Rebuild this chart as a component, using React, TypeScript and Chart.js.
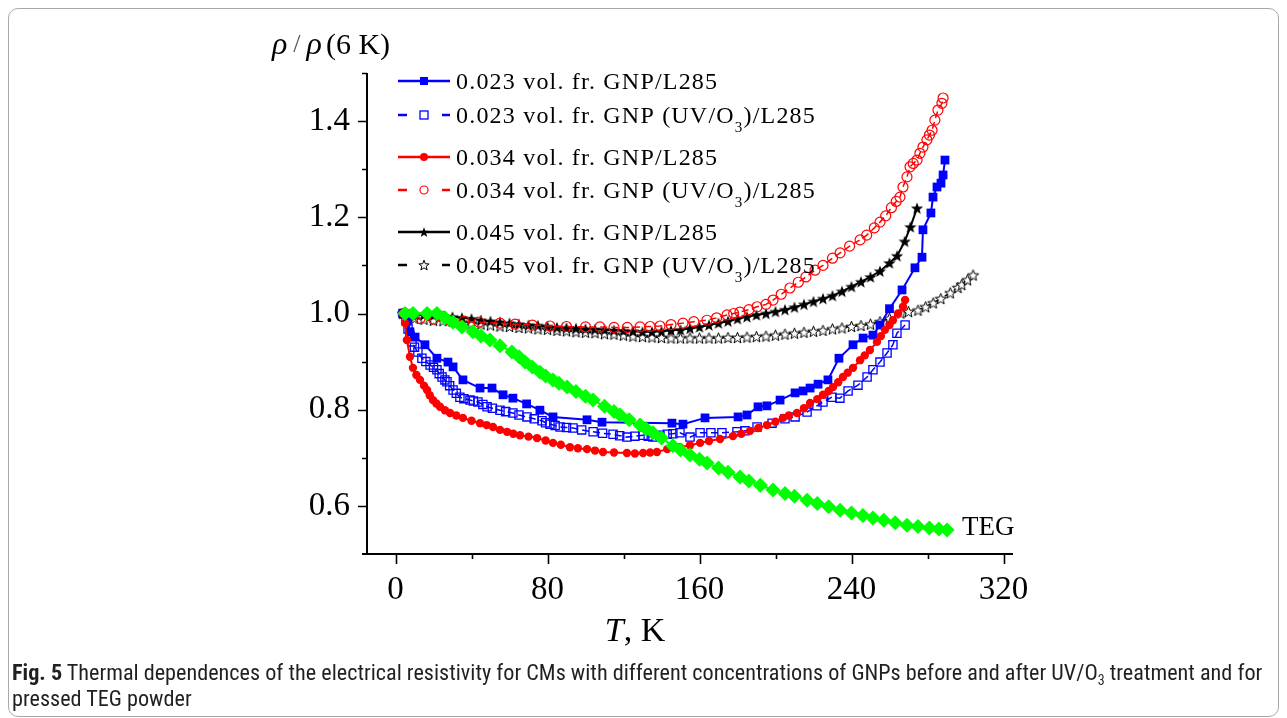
import { useEffect, useRef } from 'react';
import { Chart, registerables } from 'chart.js';

Chart.register(...registerables);

// ---------- data (T in K, rho / rho(6 K)) ----------
const gnp023: [number, number][] = [
  [4, 1.0], [6.6, 0.986], [7.6, 0.962], [10.3, 0.951], [15.5, 0.935], [21.8, 0.907], [27.6, 0.899],
  [30.3, 0.889], [35.5, 0.862], [44.5, 0.845], [50.8, 0.845], [56.6, 0.831], [61.8, 0.824], [69, 0.812],
  [76, 0.799], [82.9, 0.785], [100.8, 0.779], [108.7, 0.774], [145.5, 0.772], [151.3, 0.77], [162.9, 0.783],
  [180.3, 0.785], [185, 0.789], [190.8, 0.806], [195.5, 0.808], [202.4, 0.82], [210.3, 0.835], [214.5, 0.839],
  [218.2, 0.845], [222.4, 0.853], [227.6, 0.862], [233.4, 0.907], [240.8, 0.935], [246.1, 0.949],
  [251.3, 0.955], [255, 0.976], [260, 1.01], [266.6, 1.049], [273.4, 1.095], [277.1, 1.117], [277.6, 1.174],
  [281.8, 1.209], [282.9, 1.242], [285, 1.263], [287.1, 1.271], [288.2, 1.288], [289.2, 1.319],
];

const gnp023uv: [number, number][] = [
  [4, 1.0], [5.5, 0.985], [6.6, 0.968], [7.6, 0.955], [8.7, 0.941], [10, 0.93], [11.8, 0.92], [13.9, 0.907],
  [16, 0.9], [18.2, 0.893], [20, 0.888], [21.8, 0.883], [23, 0.875], [24.5, 0.868], [26, 0.862], [27.1, 0.858],
  [28.5, 0.85], [30.3, 0.841], [32, 0.834], [33.9, 0.826], [36, 0.823], [39.2, 0.82], [41, 0.818], [43.4, 0.816],
  [46, 0.811], [48.2, 0.806], [51, 0.803], [55, 0.799], [58, 0.796], [61.8, 0.793], [65, 0.789], [69.2, 0.785],
  [73, 0.781], [77.1, 0.777], [79, 0.773], [81.3, 0.77], [84, 0.767], [86.6, 0.764], [90, 0.763], [93.4, 0.762],
  [98, 0.758], [104, 0.754], [109, 0.751], [114.5, 0.749], [118, 0.746], [121.8, 0.743], [126, 0.745],
  [130.3, 0.747], [133, 0.745], [135.5, 0.743], [139.2, 0.747], [143, 0.749], [146, 0.75], [149.7, 0.752],
  [155, 0.743], [160.3, 0.752], [166, 0.752], [171.8, 0.752], [179.7, 0.754], [183.9, 0.756], [190.3, 0.764],
  [198.2, 0.772], [205, 0.781], [210.3, 0.785], [216.6, 0.795], [221.8, 0.808], [225, 0.816], [229.7, 0.826],
  [233.9, 0.824], [238.2, 0.839], [243.4, 0.851], [248.2, 0.868], [251.3, 0.883], [255, 0.899], [258.7, 0.918],
  [261.8, 0.935], [263.9, 0.959], [268.2, 0.976],
];

const gnp034: [number, number][] = [
  [4, 1.0], [5, 0.98], [6, 0.945], [7.6, 0.91], [9.2, 0.887], [11, 0.872], [12.9, 0.862], [15, 0.85],
  [16.6, 0.841], [18, 0.83], [19.7, 0.82], [21.5, 0.813], [23.4, 0.806], [26, 0.799], [28.7, 0.793],
  [32, 0.788], [35.5, 0.783], [40, 0.777], [44.5, 0.772], [48, 0.768], [51.3, 0.764], [55, 0.758],
  [58.7, 0.754], [62, 0.75], [65.5, 0.747], [70, 0.744], [74.5, 0.741], [79, 0.736], [82.9, 0.731],
  [87, 0.727], [91.8, 0.722], [96, 0.72], [100.8, 0.718], [105, 0.715], [109.2, 0.712], [115, 0.711],
  [121.8, 0.71], [126, 0.709], [130.3, 0.71], [134, 0.711], [137.6, 0.712], [143, 0.718], [149.7, 0.722],
  [155, 0.726], [160.3, 0.731], [165, 0.735], [170.8, 0.739], [177.6, 0.745], [182, 0.75], [186.6, 0.756],
  [191, 0.762], [195.5, 0.768], [200, 0.775], [203.9, 0.783], [207, 0.788], [211.3, 0.793], [215, 0.803],
  [218.2, 0.814], [222, 0.822], [225, 0.831], [228, 0.839], [230.3, 0.847], [233, 0.857], [235.5, 0.868],
  [238, 0.877], [240.8, 0.887], [244.5, 0.903], [247, 0.913], [249.7, 0.924], [253.4, 0.941], [255.5, 0.953],
  [257.6, 0.966], [260, 0.976], [261.8, 0.986], [264.5, 1.0], [267.1, 1.014], [268.2, 1.028],
];

const gnp034uv: [number, number][] = [
  [4, 1.0], [8, 0.995], [13, 0.99], [20, 0.988], [28.7, 0.986], [36, 0.984], [44, 0.982], [55, 0.98],
  [63, 0.978], [72, 0.976], [81.3, 0.974], [90, 0.973], [100, 0.972], [107.6, 0.972], [115, 0.971],
  [122, 0.971], [128.7, 0.972], [134, 0.973], [139.2, 0.974], [145, 0.977], [151.3, 0.98], [157, 0.983],
  [163.9, 0.986], [169, 0.991], [174.5, 0.997], [178, 1.0], [181.3, 1.003], [186, 1.008], [190.3, 1.014],
  [195, 1.019], [198.7, 1.028], [203, 1.04], [207.6, 1.053], [212, 1.065], [216, 1.076], [220.8, 1.09],
  [225, 1.1], [230, 1.115], [234, 1.126], [239, 1.14], [244.5, 1.153], [248, 1.163], [252, 1.178],
  [255, 1.19], [258, 1.203], [261, 1.22], [263.5, 1.233], [265.5, 1.242], [267.1, 1.263], [269.2, 1.284],
  [270.8, 1.305], [272.5, 1.312], [274.5, 1.319], [276, 1.333], [277.6, 1.346], [279.7, 1.361], [281, 1.371],
  [282.4, 1.381], [283.9, 1.402], [285.5, 1.423], [287.6, 1.437], [288.2, 1.448],
];

const gnp045: [number, number][] = [
  [4, 1.0], [7, 0.999], [10, 0.998], [15, 0.997], [20, 0.996], [25, 0.995], [30, 0.993], [35, 0.991],
  [40, 0.989], [45, 0.986], [50, 0.984], [55, 0.982], [60, 0.98], [65, 0.978], [70, 0.976], [75, 0.975],
  [80, 0.973], [85, 0.971], [90, 0.97], [95, 0.969], [100, 0.968], [105, 0.967], [110, 0.966], [115, 0.965],
  [120, 0.964], [125, 0.963], [130, 0.962], [135, 0.962], [140, 0.963], [145, 0.965], [150, 0.966],
  [155, 0.969], [160, 0.972], [165, 0.976], [170, 0.98], [175, 0.984], [180, 0.989], [185, 0.993],
  [190, 0.997], [195, 1.0], [200, 1.004], [205, 1.008], [210, 1.013], [215, 1.019], [220, 1.025],
  [225, 1.031], [230, 1.037], [235, 1.046], [240, 1.056], [245, 1.066], [250, 1.076], [255, 1.088],
  [260, 1.105], [264, 1.12], [268, 1.15], [271, 1.18], [274.5, 1.219],
];

const gnp045uv: [number, number][] = [
  [4, 1.0], [7, 0.994], [10, 0.99], [15, 0.988], [20, 0.986], [25, 0.985], [30, 0.984], [35, 0.982],
  [40, 0.98], [45, 0.978], [50, 0.976], [55, 0.974], [60, 0.973], [65, 0.971], [70, 0.97], [75, 0.968],
  [80, 0.967], [85, 0.965], [90, 0.964], [95, 0.962], [100, 0.961], [105, 0.96], [110, 0.958], [115, 0.957],
  [120, 0.955], [125, 0.953], [130, 0.952], [135, 0.951], [140, 0.95], [145, 0.949], [150, 0.949],
  [155, 0.949], [160, 0.949], [165, 0.949], [170, 0.949], [175, 0.95], [180, 0.95], [185, 0.951],
  [190, 0.952], [195, 0.953], [200, 0.955], [205, 0.957], [210, 0.959], [215, 0.961], [220, 0.963],
  [225, 0.965], [230, 0.968], [235, 0.97], [240, 0.973], [245, 0.975], [250, 0.978], [255, 0.983],
  [260, 0.99], [266, 1.001], [270, 1.004], [275, 1.007], [279, 1.014], [283, 1.022], [287, 1.031],
  [292, 1.043], [296, 1.054], [298, 1.06], [301, 1.07], [304, 1.08],
];

const teg: [number, number][] = [
  [5, 1.0], [9.2, 1.0], [16.6, 1.0], [21.8, 1.0], [26, 0.991], [30.3, 0.982], [35, 0.972], [40.8, 0.962],
  [45, 0.953], [49.7, 0.945], [55, 0.933], [61.3, 0.92], [65, 0.91], [68.2, 0.899], [72, 0.889],
  [76.1, 0.878], [79, 0.87], [82.9, 0.862], [86, 0.855], [90.3, 0.847], [95, 0.838], [100, 0.828],
  [104, 0.82], [110, 0.807], [115, 0.796], [118.2, 0.789], [123, 0.779], [128.7, 0.768], [132, 0.76],
  [135.5, 0.752], [140, 0.741], [146, 0.725], [150, 0.716], [155, 0.706], [160, 0.697], [164, 0.689],
  [170, 0.679], [175, 0.67], [181.3, 0.66], [186, 0.652], [192, 0.643], [198.7, 0.633], [205, 0.626],
  [210, 0.62], [216.6, 0.612], [222, 0.605], [228, 0.598], [234, 0.591], [240, 0.585], [246, 0.58],
  [251.3, 0.575], [257, 0.57], [263, 0.565], [269.2, 0.56], [275, 0.557], [281, 0.554], [286, 0.552],
  [290.3, 0.55],
];

const xMajorTicks = [0, 80, 160, 240, 320];
const xMinorTicks = [40, 120, 200, 280];
const yMajorTicks = [0.6, 0.8, 1.0, 1.2, 1.4];
const yMinorTicks = [0.7, 0.9, 1.1, 1.3, 1.5];

const legendLabels = [
  ['0.023 vol. fr. GNP/L285'],
  ['0.023 vol. fr. GNP (UV/O', '3', ')/L285'],
  ['0.034 vol. fr. GNP/L285'],
  ['0.034 vol. fr. GNP (UV/O', '3', ')/L285'],
  ['0.045 vol. fr. GNP/L285'],
  ['0.045 vol. fr. GNP (UV/O', '3', ')/L285'],
];

const BLUE = '#0000ff';
const RED = '#ff0000';
const BLACK = '#000000';
const GREEN = '#00ff00';
const SERIF = "'Liberation Serif', 'Times New Roman', serif";

function starPath(ctx: CanvasRenderingContext2D, cx: number, cy: number, ro: number, ri: number) {
  ctx.beginPath();
  for (let i = 0; i < 10; i++) {
    const r = i % 2 === 0 ? ro : ri;
    const a = -Math.PI / 2 + (i * Math.PI) / 5;
    const x = cx + r * Math.cos(a);
    const y = cy + r * Math.sin(a);
    if (i === 0) ctx.moveTo(x, y);
    else ctx.lineTo(x, y);
  }
  ctx.closePath();
}

function makeStar(filled: boolean, size: number): HTMLCanvasElement {
  const c = document.createElement('canvas');
  c.width = size;
  c.height = size;
  const g = c.getContext('2d')!;
  starPath(g, size / 2, size / 2 + 0.6, size / 2 - 0.6, (size / 2 - 0.6) * 0.42);
  if (filled) {
    g.fillStyle = BLACK;
    g.fill();
  } else {
    g.fillStyle = '#ffffff';
    g.fill();
    g.strokeStyle = BLACK;
    g.lineWidth = 1;
    g.stroke();
  }
  return c;
}

type MarkerKind = 'sqF' | 'sqO' | 'ciF' | 'ciO' | 'stF' | 'stO';

function drawMarker(ctx: CanvasRenderingContext2D, kind: MarkerKind, x: number, y: number, stars: Record<string, HTMLCanvasElement>) {
  ctx.save();
  if (kind === 'sqF') {
    ctx.fillStyle = BLUE;
    ctx.fillRect(x - 4, y - 4, 8, 8);
  } else if (kind === 'sqO') {
    ctx.strokeStyle = BLUE;
    ctx.lineWidth = 1.3;
    ctx.fillStyle = '#fff';
    ctx.fillRect(x - 4, y - 4, 8, 8);
    ctx.strokeRect(x - 4, y - 4, 8, 8);
  } else if (kind === 'ciF') {
    ctx.fillStyle = RED;
    ctx.beginPath();
    ctx.arc(x, y, 4, 0, Math.PI * 2);
    ctx.fill();
  } else if (kind === 'ciO') {
    ctx.strokeStyle = RED;
    ctx.fillStyle = '#fff';
    ctx.lineWidth = 1.2;
    ctx.beginPath();
    ctx.arc(x, y, 4, 0, Math.PI * 2);
    ctx.fill();
    ctx.stroke();
  } else {
    const img = kind === 'stF' ? stars.legendFilled : stars.legendOpen;
    ctx.drawImage(img, x - img.width / 2, y - img.height / 2);
  }
  ctx.restore();
}

const pts = (arr: [number, number][]) => arr.map(([x, y]) => ({ x, y }));

export default function App() {
  const ref = useRef<HTMLCanvasElement | null>(null);

  useEffect(() => {
    if (!ref.current) return;
    const stars = {
      filled: makeStar(true, 14),
      open: makeStar(false, 13),
      legendFilled: makeStar(true, 12),
      legendOpen: makeStar(false, 12),
    };

    const decor = {
      id: 'decor',
      afterDraw(chart: any) {
        const ctx: CanvasRenderingContext2D = chart.ctx;
        const a = chart.chartArea;
        const xs = chart.scales.x;
        const ys = chart.scales.y;
        ctx.save();
        // axes
        ctx.strokeStyle = '#000';
        ctx.lineWidth = 2;
        ctx.beginPath();
        ctx.moveTo(a.left - 5, a.bottom);
        ctx.lineTo(a.right, a.bottom);
        ctx.moveTo(a.left, a.top);
        ctx.lineTo(a.left, a.bottom);
        ctx.stroke();
        // ticks
        ctx.lineWidth = 1.6;
        ctx.beginPath();
        xMajorTicks.forEach((v) => {
          const p = Math.round(xs.getPixelForValue(v)) + 0.5;
          ctx.moveTo(p, a.bottom);
          ctx.lineTo(p, a.bottom + 10);
        });
        xMinorTicks.forEach((v) => {
          const p = Math.round(xs.getPixelForValue(v)) + 0.5;
          ctx.moveTo(p, a.bottom);
          ctx.lineTo(p, a.bottom + 5);
        });
        yMajorTicks.forEach((v) => {
          const p = Math.round(ys.getPixelForValue(v)) + 0.5;
          ctx.moveTo(a.left - 9, p);
          ctx.lineTo(a.left, p);
        });
        yMinorTicks.forEach((v) => {
          const p = Math.round(ys.getPixelForValue(v)) + 0.5;
          ctx.moveTo(a.left - 5, p);
          ctx.lineTo(a.left, p);
        });
        ctx.stroke();

        // legend
        const rows = [73, 107, 149, 182, 224, 257];
        const kinds: MarkerKind[] = ['sqF', 'sqO', 'ciF', 'ciO', 'stF', 'stO'];
        const colors = [BLUE, BLUE, RED, RED, BLACK, BLACK];
        rows.forEach((ry, i) => {
          ctx.strokeStyle = colors[i];
          ctx.lineWidth = 2.4;
          ctx.beginPath();
          if (i % 2 === 0) {
            ctx.moveTo(390, ry);
            ctx.lineTo(442, ry);
          } else {
            ctx.moveTo(390, ry);
            ctx.lineTo(399, ry);
            ctx.moveTo(434, ry);
            ctx.lineTo(442, ry);
          }
          ctx.stroke();
          drawMarker(ctx, kinds[i], 416, ry, stars);
          const parts = legendLabels[i];
          ctx.fillStyle = '#000';
          ctx.textBaseline = 'alphabetic';
          ctx.textAlign = 'left';
          (ctx as any).letterSpacing = '1.2px';
          let x = 448;
          ctx.font = `24px ${SERIF}`;
          ctx.fillText(parts[0], x, ry + 8);
          x += ctx.measureText(parts[0]).width;
          if (parts.length > 1) {
            ctx.font = `15px ${SERIF}`;
            ctx.fillText(parts[1], x, ry + 17);
            x += ctx.measureText(parts[1]).width;
            ctx.font = `24px ${SERIF}`;
            ctx.fillText(parts[2], x, ry + 8);
          }
          (ctx as any).letterSpacing = '0px';
        });

        // axis titles
        ctx.fillStyle = '#000';
        ctx.textBaseline = 'alphabetic';
        // y title
        let x = 264;
        const yb = 46;
        ctx.font = `italic 32px ${SERIF}`;
        ctx.fillText('ρ', x, yb);
        x += ctx.measureText('ρ').width + 6;
        ctx.font = `26px ${SERIF}`;
        ctx.fillStyle = '#555';
        ctx.fillText('/', x, yb - 2);
        x += ctx.measureText('/').width + 6;
        ctx.fillStyle = '#000';
        ctx.font = `italic 32px ${SERIF}`;
        ctx.fillText('ρ', x, yb);
        x += ctx.measureText('ρ').width + 4;
        ctx.font = `30px ${SERIF}`;
        ctx.fillText('(6 K)', x, yb);

        // x title
        ctx.font = `italic 34px ${SERIF}`;
        const wT = ctx.measureText('T').width;
        ctx.font = `34px ${SERIF}`;
        const wR = ctx.measureText(', K').width;
        let tx = 627 - (wT + wR) / 2;
        ctx.font = `italic 34px ${SERIF}`;
        ctx.fillText('T', tx, 633);
        tx += wT;
        ctx.font = `34px ${SERIF}`;
        ctx.fillText(', K', tx, 633);

        // TEG label
        ctx.font = `27px ${SERIF}`;
        ctx.fillText('TEG', 954, 527);
        ctx.restore();
      },
    };

    const chart = new Chart(ref.current, {
      type: 'scatter',
      data: {
        datasets: [
          {
            label: 'TEG',
            data: pts(teg),
            showLine: true,
            borderColor: GREEN,
            backgroundColor: GREEN,
            borderWidth: 2,
            pointStyle: 'rectRot',
            pointRadius: 7.5,
            pointBorderWidth: 0,
            order: 0,
          },
          {
            label: legendLabels[2].join(''),
            data: pts(gnp034),
            showLine: true,
            borderColor: RED,
            backgroundColor: RED,
            borderWidth: 2,
            pointStyle: 'circle',
            pointRadius: 4.2,
            pointBorderWidth: 0,
            order: 1,
          },
          {
            label: legendLabels[0].join(''),
            data: pts(gnp023),
            showLine: true,
            borderColor: BLUE,
            backgroundColor: BLUE,
            borderWidth: 2,
            pointStyle: 'rect',
            pointRadius: 6.2,
            pointBorderWidth: 0,
            order: 2,
          },
          {
            label: legendLabels[1].join(''),
            data: pts(gnp023uv),
            showLine: true,
            borderColor: BLUE,
            backgroundColor: 'rgba(255,255,255,0)',
            borderWidth: 1.5,
            borderDash: [7, 4],
            pointStyle: 'rect',
            pointRadius: 5.8,
            pointBorderWidth: 1.3,
            pointBorderColor: BLUE,
            pointBackgroundColor: 'rgba(255,255,255,0)',
            order: 3,
          },
          {
            label: legendLabels[3].join(''),
            data: pts(gnp034uv),
            showLine: true,
            borderColor: RED,
            backgroundColor: 'rgba(255,255,255,0)',
            borderWidth: 1.5,
            borderDash: [7, 4],
            pointStyle: 'circle',
            pointRadius: 5,
            pointBorderWidth: 1.2,
            pointBorderColor: RED,
            pointBackgroundColor: 'rgba(255,255,255,0)',
            order: 4,
          },
          {
            label: legendLabels[4].join(''),
            data: pts(gnp045),
            showLine: true,
            borderColor: BLACK,
            backgroundColor: BLACK,
            borderWidth: 2,
            pointStyle: stars.filled,
            order: 5,
          },
          {
            label: legendLabels[5].join(''),
            data: pts(gnp045uv),
            showLine: true,
            borderColor: BLACK,
            backgroundColor: BLACK,
            borderWidth: 1.5,
            borderDash: [7, 4],
            pointStyle: stars.open,
            order: 6,
          },
        ],
      } as any,
      options: {
        responsive: false,
        animation: false,
        devicePixelRatio: 1,
        layout: { padding: { left: 299, right: 266, top: 65, bottom: 34 } },
        plugins: { legend: { display: false }, tooltip: { enabled: false } },
        elements: { line: { tension: 0 } },
        scales: {
          x: {
            type: 'linear',
            min: -15,
            max: 325,
            afterBuildTicks: (s: any) => {
              s.ticks = xMajorTicks.map((v) => ({ value: v }));
            },
            afterFit: (s: any) => {
              s.height = 60;
            },
            grid: { display: true, drawOnChartArea: false, drawTicks: true, tickLength: 10, color: 'rgba(0,0,0,0)', tickColor: 'rgba(0,0,0,0)' },
            border: { display: false },
            ticks: {
              color: '#000',
              font: { family: SERIF, size: 33 },
              padding: 7,
              maxRotation: 0,
              autoSkip: false,
              callback: (v: any) => String(v),
            },
          },
          y: {
            type: 'linear',
            min: 0.5,
            max: 1.5,
            afterBuildTicks: (s: any) => {
              s.ticks = yMajorTicks.map((v) => ({ value: v }));
            },
            afterFit: (s: any) => {
              s.width = 60;
            },
            grid: { display: true, drawOnChartArea: false, drawTicks: true, tickLength: 9, color: 'rgba(0,0,0,0)', tickColor: 'rgba(0,0,0,0)' },
            border: { display: false },
            ticks: {
              color: '#000',
              font: { family: SERIF, size: 33 },
              padding: 8,
              autoSkip: false,
              callback: (v: any) => Number(v).toFixed(1),
            },
          },
        },
      },
      plugins: [decor],
    } as any);

    return () => chart.destroy();
  }, []);

  return (
    <div style={{ position: 'relative', width: 1271, height: 709 }}>
      <canvas ref={ref} width={1271} height={640} style={{ display: 'block', width: 1271, height: 640 }} />
      <div
        style={{
          position: 'absolute',
          inset: 0,
          border: '1px solid #a8a8a8',
          borderRadius: 10,
          boxSizing: 'border-box',
          pointerEvents: 'none',
        }}
      />
      <div
        style={{
          position: 'absolute',
          left: 4,
          top: 651,
          fontFamily: "'Liberation Sans Narrow', 'Roboto Condensed', 'Open Sans', sans-serif",
          fontSize: 22.2,
          lineHeight: '26px',
          color: '#231f20',
          whiteSpace: 'nowrap',
        }}
      >
        <b>Fig. 5</b> Thermal dependences of the electrical resistivity for CMs with different concentrations of GNPs before and after UV/O
        <sub style={{ fontSize: 14, lineHeight: 0 }}>3</sub> treatment and for
        <br />
        pressed TEG powder
      </div>
    </div>
  );
}
